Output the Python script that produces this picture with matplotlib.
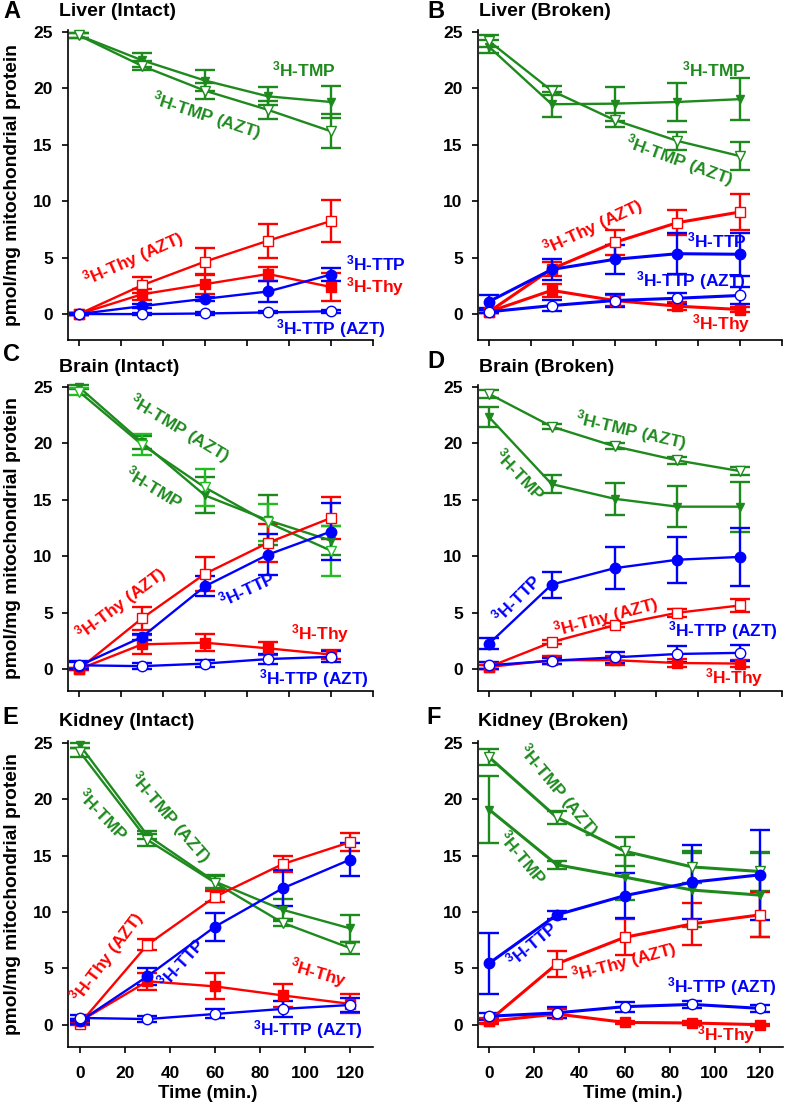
import numpy as np
import matplotlib
matplotlib.use("Agg")
import matplotlib.pyplot as plt

plt.rcParams['font.family'] = ['Liberation Sans', 'DejaVu Sans']
plt.rcParams['font.weight'] = 'bold'
plt.rcParams['mathtext.fontset'] = 'custom'
plt.rcParams['mathtext.rm'] = 'Liberation Sans:bold'
plt.rcParams['mathtext.bf'] = 'Liberation Sans:bold'
plt.rcParams['mathtext.it'] = 'Liberation Sans:bold'
plt.rcParams['mathtext.default'] = 'rm'

# time points (min.)
time = [0, 30, 60, 90, 120]

# --- A: Liver (Intact)
A_tmp = [24.7, 22.5, 20.7, 19.3, 18.8]
A_tmp_err = [0.2, 0.6, 0.9, 0.8, 1.45]
A_tmp_azt = [24.7, 22.0, 19.8, 18.1, 16.2]
A_tmp_azt_err = [0.2, 0.4, 0.7, 0.8, 1.5]
A_thy = [0.0, 1.75, 2.65, 3.55, 2.4]
A_thy_err = [0.1, 0.5, 0.9, 0.65, 1.2]
A_thy_azt = [0.0, 2.55, 4.65, 6.5, 8.25]
A_thy_azt_err = [0.1, 0.7, 1.2, 1.5, 1.85]
A_ttp = [0.0, 0.7, 1.35, 2.0, 3.5]
A_ttp_err = [0.1, 0.15, 0.2, 0.9, 0.6]
A_ttp_azt = [0.0, 0.0, 0.05, 0.15, 0.25]
A_ttp_azt_err = [0.05, 0.05, 0.1, 0.1, 0.15]

# --- B: Liver (Broken)
B_tmp = [23.7, 18.6, 18.65, 18.8, 19.05]
B_tmp_err = [0.6, 1.1, 1.5, 1.65, 1.85]
B_tmp_azt = [24.2, 19.8, 17.2, 15.35, 14.0]
B_tmp_azt_err = [0.5, 0.4, 0.6, 0.8, 1.25]
B_thy = [0.2, 2.1, 1.2, 0.7, 0.4]
B_thy_err = [0.15, 0.6, 0.5, 0.35, 0.2]
B_thy_azt = [0.2, 4.0, 6.35, 8.1, 9.05]
B_thy_azt_err = [0.15, 0.6, 1.1, 1.1, 1.6]
B_ttp = [1.1, 3.95, 4.85, 5.35, 5.3]
B_ttp_err = [0.6, 0.9, 1.3, 1.8, 1.9]
B_ttp_azt = [0.2, 0.75, 1.2, 1.4, 1.65]
B_ttp_azt_err = [0.15, 0.5, 0.6, 0.5, 0.75]

# --- C: Brain (Intact)
C_tmp = [25.0, 20.1, 15.4, 13.2, 11.4]
C_tmp_err = [0.2, 0.6, 1.6, 2.2, 1.3]
C_tmp_azt = [24.6, 19.9, 16.1, 13.0, 10.5]
C_tmp_azt_err = [0.3, 0.9, 1.6, 1.6, 2.2]
C_thy = [0.0, 2.2, 2.35, 1.85, 1.3]
C_thy_err = [0.1, 0.85, 0.75, 0.6, 0.4]
C_thy_azt = [0.0, 4.5, 8.45, 11.2, 13.4]
C_thy_azt_err = [0.1, 1.0, 1.5, 1.7, 1.85]
C_ttp = [0.3, 2.85, 7.35, 10.15, 12.2]
C_ttp_err = [0.3, 0.3, 0.9, 1.8, 2.5]
C_ttp_azt = [0.35, 0.27, 0.5, 0.9, 1.1]
C_ttp_azt_err = [0.35, 0.25, 0.3, 0.45, 0.5]

# --- D: Brain (Broken)
D_tmp = [22.35, 16.4, 15.1, 14.4, 14.4]
D_tmp_err = [0.9, 0.8, 1.4, 1.8, 2.2]
D_tmp_azt = [24.4, 21.5, 19.75, 18.5, 17.55]
D_tmp_azt_err = [0.35, 0.2, 0.25, 0.3, 0.35]
D_thy = [0.2, 0.8, 0.8, 0.55, 0.5]
D_thy_err = [0.2, 0.35, 0.4, 0.35, 0.3]
D_thy_azt = [0.2, 2.4, 3.9, 5.0, 5.65]
D_thy_azt_err = [0.2, 0.2, 0.2, 0.35, 0.55]
D_ttp = [2.25, 7.5, 8.95, 9.7, 9.95]
D_ttp_err = [0.5, 1.15, 1.85, 2.05, 2.6]
D_ttp_azt = [0.35, 0.75, 1.05, 1.35, 1.45]
D_ttp_azt_err = [0.3, 0.25, 0.5, 0.7, 0.7]

# --- E: Kidney (Intact)
E_tmp = [24.8, 16.8, 12.7, 10.2, 8.55]
E_tmp_err = [0.2, 0.35, 0.6, 1.0, 1.2]
E_tmp_azt = [24.2, 16.4, 12.6, 9.05, 6.8]
E_tmp_azt_err = [0.4, 0.5, 0.6, 0.3, 0.55]
E_thy = [0.3, 3.85, 3.4, 2.6, 1.85]
E_thy_err = [0.2, 0.75, 1.15, 1.0, 0.85]
E_thy_azt = [0.1, 7.1, 11.35, 14.25, 16.2]
E_thy_azt_err = [0.1, 0.5, 0.5, 0.7, 0.8]
E_ttp = [0.3, 4.3, 8.7, 12.1, 14.65]
E_ttp_err = [0.2, 0.75, 1.25, 1.6, 1.45]
E_ttp_azt = [0.6, 0.5, 0.95, 1.4, 1.75]
E_ttp_azt_err = [0.25, 0.25, 0.4, 0.7, 0.6]

# --- F: Kidney (Broken)
F_tmp = [19.1, 14.2, 13.1, 11.95, 11.5]
F_tmp_err = [3.0, 0.35, 2.0, 3.25, 3.7]
F_tmp_azt = [23.75, 18.4, 15.4, 14.0, 13.6]
F_tmp_azt_err = [0.7, 0.6, 1.3, 1.4, 1.7]
F_thy = [0.3, 0.95, 0.2, 0.15, 0.0]
F_thy_err = [0.2, 0.4, 0.15, 0.15, 0.1]
F_thy_azt = [0.35, 5.4, 7.75, 8.95, 9.75]
F_thy_azt_err = [0.2, 1.15, 1.6, 1.85, 2.0]
F_ttp = [5.45, 9.75, 11.45, 12.65, 13.3]
F_ttp_err = [2.7, 0.35, 2.0, 3.3, 4.0]
F_ttp_azt = [0.75, 1.05, 1.6, 1.8, 1.45]
F_ttp_azt_err = [0.3, 0.5, 0.45, 0.3, 0.3]

letters = ['A', 'B', 'C', 'D', 'E', 'F']
titles = ['Liver (Intact)', 'Liver (Broken)', 'Brain (Intact)',
          'Brain (Broken)', 'Kidney (Intact)', 'Kidney (Broken)']

green = '#1e8a1e'
green_lt = '#22bb22'
red = '#ff0000'
blue = '#0000ff'

W, H = 785, 1104
fig = plt.figure(figsize=(W / 100, H / 100), dpi=100)


def box(l, t, r, b):
    return [l / W, 1 - b / H, (r - l) / W, (b - t) / H]


# axes boxes in pixels (left, top, right, bottom) and limits
boxes = [(68, 30, 373, 340), (478, 30, 782, 340),
         (68, 385, 373, 691), (478, 385, 782, 691),
         (68, 741, 373, 1047), (478, 741, 783, 1047)]
ylims = [(-2.3, 25.18), (-2.3, 25.18), (-1.93, 25.18), (-1.93, 25.18),
         (-1.98, 25.18), (-1.98, 25.18)]
xlims = [(-5.2, 140), (-5.2, 140), (-5.2, 140), (-5.2, 140),
         (-5.3, 130.2), (-4.9, 130.2)]

series = {
    'A': [(A_tmp, A_tmp_err), (A_tmp_azt, A_tmp_azt_err), (A_thy, A_thy_err),
          (A_thy_azt, A_thy_azt_err), (A_ttp, A_ttp_err), (A_ttp_azt, A_ttp_azt_err)],
    'B': [(B_tmp, B_tmp_err), (B_tmp_azt, B_tmp_azt_err), (B_thy, B_thy_err),
          (B_thy_azt, B_thy_azt_err), (B_ttp, B_ttp_err), (B_ttp_azt, B_ttp_azt_err)],
    'C': [(C_tmp, C_tmp_err), (C_tmp_azt, C_tmp_azt_err), (C_thy, C_thy_err),
          (C_thy_azt, C_thy_azt_err), (C_ttp, C_ttp_err), (C_ttp_azt, C_ttp_azt_err)],
    'D': [(D_tmp, D_tmp_err), (D_tmp_azt, D_tmp_azt_err), (D_thy, D_thy_err),
          (D_thy_azt, D_thy_azt_err), (D_ttp, D_ttp_err), (D_ttp_azt, D_ttp_azt_err)],
    'E': [(E_tmp, E_tmp_err), (E_tmp_azt, E_tmp_azt_err), (E_thy, E_thy_err),
          (E_thy_azt, E_thy_azt_err), (E_ttp, E_ttp_err), (E_ttp_azt, E_ttp_azt_err)],
    'F': [(F_tmp, F_tmp_err), (F_tmp_azt, F_tmp_azt_err), (F_thy, F_thy_err),
          (F_thy_azt, F_thy_azt_err), (F_ttp, F_ttp_err), (F_ttp_azt, F_ttp_azt_err)],
}

# labels: (text, x, y, rotation, color, ha)
TMP = r'$^{3}$H-TMP'
TMPA = r'$^{3}$H-TMP (AZT)'
THY = r'$^{3}$H-Thy'
THYA = r'$^{3}$H-Thy (AZT)'
TTP = r'$^{3}$H-TTP'
TTPA = r'$^{3}$H-TTP (AZT)'
labels = {
    'A': [(TMP, 107, 21.7, 0, green, 'center'), (TMPA, 61, 17.6, -18, green, 'center'),
          (THYA, 26, 4.9, 24, red, 'center'), (TTP, 127, 4.5, 0, blue, 'left'),
          (THY, 127, 2.4, 0, red, 'left'), (TTPA, 120, -1.3, 0, blue, 'center')],
    'B': [(TMP, 107.5, 21.7, 0, green, 'center'), (TMPA, 91, 13.6, -20, green, 'center'),
          (THYA, 50, 7.7, 25, red, 'center'), (TTP, 109, 6.55, 0, blue, 'center'),
          (TTPA, 96.5, 3.0, 0, blue, 'center'), (THY, 111, -0.8, 0, red, 'center')],
    'C': [(TMPA, 48, 21.3, -31, green, 'center'), (TMP, 36, 16.1, -31, green, 'center'),
          (THYA, 20, 5.8, 37, red, 'center'), (TTP, 80, 7.1, 25, blue, 'center'),
          (THY, 115, 3.2, 0, red, 'center'), (TTPA, 112, -0.8, 0, blue, 'center')],
    'D': [(TMPA, 68, 21.1, -13, green, 'center'), (TMP, 15, 17.3, -46, green, 'center'),
          (TTP, 13, 6.3, 45, blue, 'center'), (THYA, 56, 4.6, 15, red, 'center'),
          (TTPA, 112, 3.45, 0, blue, 'center'), (THY, 117, -0.7, 0, red, 'center')],
    'E': [(TMP, 10.4, 18.7, -46, green, 'center'), (TMPA, 40, 18.4, -49, green, 'center'),
          (THYA, 12, 6.0, 53, red, 'center'), (TTP, 45, 5.5, 48, blue, 'center'),
          (THY, 106, 4.6, -16, red, 'center'), (TTPA, 101.5, -0.45, 0, blue, 'center')],
    'F': [(TMPA, 30.6, 20.8, -50, green, 'center'), (TMP, 15, 14.9, -50, green, 'center'),
          (TTP, 19, 7.2, 40, blue, 'center'), (THYA, 60, 5.6, 15, red, 'center'),
          (TTPA, 103, 3.4, 0, blue, 'center'), (THY, 105, -0.9, 0, red, 'center')],
}

letter_pos = [(12, 12), (436, 12), (11, 355), (436, 362), (10, 717), (434, 717)]
title_pos = [(59, 11), (479, 11), (59, 368), (479, 368), (59, 721), (478, 721)]
xlabel_x = {'E': 208, 'F': 633}

for i, key in enumerate(letters):
    l, t, r, b = boxes[i]
    ax = fig.add_axes(box(l, t, r, b))
    thick = 2.2 if key in ('B', 'F') else 1.7
    (tmp, tmp_e), (tmpa, tmpa_e), (thy, thy_e), (thya, thya_e), \
        (ttp, ttp_e), (ttpa, ttpa_e) = series[key]
    azt_green = green_lt if key == 'C' else green
    glw = thick if key == 'F' else 1.7

    kw = dict(capsize=7, elinewidth=1.7, capthick=1.7, clip_on=False)
    ax.errorbar(time, tmp, yerr=tmp_e, color=green, marker='v', ms=6,
                mfc=green, mec=green, lw=glw, **kw)
    ax.errorbar(time, tmpa, yerr=tmpa_e, color=green, ecolor=azt_green, marker='v', ms=7.5,
                mfc='white', mec=azt_green, lw=glw, **kw)
    ax.errorbar(time, thya, yerr=thya_e, color=red, marker='s', ms=7,
                mfc='white', mec=red, lw=thick, **kw)
    ax.errorbar(time, thy, yerr=thy_e, color=red, marker='s', ms=7,
                mfc=red, mec=red, lw=thick, **kw)
    ax.errorbar(time, ttp, yerr=ttp_e, color=blue, marker='o', ms=7.5,
                mfc=blue, mec=blue, lw=thick, **kw)
    ax.errorbar(time, ttpa, yerr=ttpa_e, color=blue, marker='o', ms=7.5,
                mfc='white', mec=blue, lw=thick, **kw)

    for txt, x, y, rot, c, ha in labels[key]:
        ax.text(x, y, txt, color=c, fontsize=12.5, fontweight='bold', rotation=rot,
                ha=ha, va='center', rotation_mode='anchor')

    ax.set_xlim(*xlims[i])
    ax.set_ylim(*ylims[i])
    ax.set_yticks([0, 5, 10, 15, 20, 25])
    if key in ('E', 'F'):
        ax.set_xticks([0, 20, 40, 60, 80, 100, 120])
        fig.text(xlabel_x[key] / W, 1 - 1093 / H, 'Time (min.)', fontsize=13.5,
                 fontweight='bold', ha='center', va='center')
    else:
        ax.set_xticks([0, 20, 40, 60, 80, 100, 120, 140])
        ax.set_xticklabels([])
    ax.tick_params(direction='out', length=4, width=1.2, labelsize=12.5)
    ax.tick_params(axis='y', pad=7)
    ax.tick_params(axis='x', pad=10)
    for lab in ax.get_xticklabels() + ax.get_yticklabels():
        lab.set_fontweight('bold')
    for s in ('top', 'right'):
        ax.spines[s].set_visible(False)
    for s in ('left', 'bottom'):
        ax.spines[s].set_linewidth(1.2)

    fig.text(letter_pos[i][0] / W, 1 - letter_pos[i][1] / H, key, fontsize=17,
             fontweight='bold', ha='center', va='center')
    fig.text(title_pos[i][0] / W, 1 - title_pos[i][1] / H, titles[i], fontsize=14,
             fontweight='bold', ha='left', va='center')
    if key in ('A', 'C', 'E'):
        fig.text(13 / W, 1 - (t + b) / 2 / H, 'pmol/mg mitochondrial protein',
                 rotation=90, fontsize=13.8, fontweight='bold', ha='center', va='center')

fig.savefig('out.png', dpi=100)
